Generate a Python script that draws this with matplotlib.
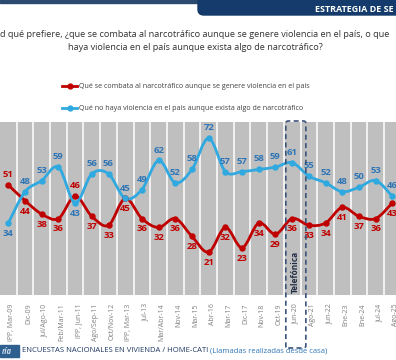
import numpy as np
import matplotlib
matplotlib.use("Agg")
import matplotlib.pyplot as plt
from matplotlib.path import Path
from matplotlib.patches import PathPatch, FancyBboxPatch, Rectangle
from matplotlib.lines import Line2D
from matplotlib.transforms import ScaledTranslation

plt.rcParams['font.family'] = ['Liberation Sans Narrow', 'Open Sans', 'DejaVu Sans']

fechas = ["IPP, Mar-09", "Dic-09", "Jul/Ago-10", "Feb/Mar-11", "IPP, Jun-11",
          "Ago/Sep-11", "Oct/Nov-12", "IPP, Mar-13", "Jul-13", "Mar/Abr-14",
          "Nov-14", "Mar-15", "Abr-16", "Mar-17", "Dic-17", "Nov-18", "Oct-19",
          "Jun-20", "Ago-21", "Jun-22", "Ene-23", "Ene-24", "Jul-24", "Ago-25"]
combata = [51, 44, 38, 36, 46, 37, 33, 45, 36, 32, 36, 28, 21, 32, 23, 34, 29,
           36, 33, 34, 41, 37, 36, 43]
no_violencia = [34, 48, 53, 59, 43, 56, 56, 45, 49, 62, 52, 58, 72, 57, 57, 58,
                59, 61, 55, 52, 48, 50, 53, 46]
# label above (+1) or below (-1) the point
pos_combata = [1, -1, -1, -1, 1] + [-1] * 19
pos_no_violencia = [-1, 1, 1, 1, -1] + [1] * 19

serie1 = "Qué se combata al narcotráfico aunque se genere violencia en el país"
serie2 = "Qué no haya violencia en el país aunque exista algo de narcotráfico"
pregunta = ("d qué prefiere, ¿que se combata al narcotráfico aunque se genere violencia en el país, o que\n"
            "haya violencia en el país aunque exista algo de narcotráfico?")

ROJO = "#C00000"
AZUL = "#2FA9E0"
AZUL_TXT = "#2E75B6"
NAVY = "#143B6B"

W, H = 396, 360
fig = plt.figure(figsize=(W / 100, H / 100), dpi=100)
fig.patch.set_facecolor("white")

def fy(py):
    return 1 - py / H

ax = fig.add_axes([0, fy(295), 1, (295 - 122) / H])
ax.set_facecolor("#BFBFBF")
for s in ax.spines.values():
    s.set_visible(False)
ax.set_xlim(-0.5, 23.22)
ax.set_ylim(1.8, 79.2)
ax.set_yticks([])
x = np.arange(len(fechas))
for b in x[:-1] + 0.5:
    ax.axvline(b, color="white", lw=1.1, zorder=1)


def smooth(xs, ys):
    pts = np.column_stack([xs, ys]).astype(float)
    n = len(pts)
    verts = [pts[0]]
    codes = [Path.MOVETO]
    for i in range(n - 1):
        p0 = pts[max(i - 1, 0)]
        p1 = pts[i]
        p2 = pts[i + 1]
        p3 = pts[min(i + 2, n - 1)]
        verts += [p1 + (p2 - p0) / 6, p2 - (p3 - p1) / 6, p2]
        codes += [Path.CURVE4] * 3
    return Path(verts, codes)


for vals, col, tcol, pos in [(combata, ROJO, ROJO, pos_combata),
                             (no_violencia, AZUL, AZUL_TXT, pos_no_violencia)]:
    ax.add_patch(PathPatch(smooth(x, vals), fill=False, ec=col, lw=2.0, zorder=3))
    ax.plot(x, vals, ls="none", marker="o", ms=3.6, color=col, zorder=4)
    for xi, v, p in zip(x, vals, pos):
        ax.annotate(str(v), (xi, v), xytext=(0, 7.5 * p), textcoords="offset points",
                    ha="center", va="center", fontsize=6.8, fontweight="bold",
                    color=tcol, zorder=5, annotation_clip=False)

ax.set_xticks(x)
ax.set_xticklabels(fechas, rotation=90, fontsize=5, color="#7F7F7F")
ax.tick_params(axis="x", length=0, pad=6)
for lab in ax.get_xticklabels():
    lab.set_transform(lab.get_transform() + ScaledTranslation(3.5 / 100, 0, fig.dpi_scale_trans))

# Telefonica box
fig.canvas.draw()
inv = fig.transFigure.inverted()
x0 = inv.transform(ax.transData.transform((16.62, 0)))[0]
x1 = inv.transform(ax.transData.transform((17.82, 0)))[0]
fig.patches.append(FancyBboxPatch((x0, fy(348)), x1 - x0, (348 - 121) / H,
                                  boxstyle="round,pad=0,rounding_size=0.006",
                                  transform=fig.transFigure, fill=False,
                                  ec="#3A5478", lw=1.2, ls=(0, (3, 2)), zorder=6))
fig.text((x0 + x1) / 2, fy(272), "Telefónica", rotation=90, ha="center", va="center",
         fontsize=6, fontweight="bold", color="#1F2D45")

# banner
fig.patches.append(Rectangle((0, fy(3)), 1, 3 / H, transform=fig.transFigure,
                             color="#2B4A70", zorder=1))
fig.patches.append(FancyBboxPatch((198 / W, fy(15)), 1, 20 / H,
                                  boxstyle="round,pad=0,rounding_size=0.015",
                                  transform=fig.transFigure, color=NAVY, zorder=2))
fig.text(394 / W, fy(9), "ESTRATEGIA DE SE", ha="right", va="center", fontsize=6.5,
         fontweight="bold", color="white")

fig.text(195 / W, fy(41), pregunta, ha="center", va="center", fontsize=6.6,
         color="#333333", linespacing=1.7)

# legend
for yy, col, txt in [(86, ROJO, serie1), (108, AZUL, serie2)]:
    fig.add_artist(Line2D([62 / W, 77 / W], [fy(yy), fy(yy)], transform=fig.transFigure,
                          color=col, lw=2))
    fig.add_artist(Line2D([69.5 / W], [fy(yy)], transform=fig.transFigure, color=col,
                          marker="o", ms=3.5))
    fig.text(79 / W, fy(yy), txt, ha="left", va="center", fontsize=5.1, color="#404040")

# footer
fig.patches.append(Rectangle((0, fy(357)), 19 / W, 12 / H, transform=fig.transFigure,
                             color="#2F5F8F"))
fig.text(2 / W, fy(351), "ría", ha="left", va="center", fontsize=5.5,
         fontweight="bold", fontstyle="italic", color="#C9DAEE")
t = fig.text(22 / W, fy(351), "ENCUESTAS NACIONALES EN VIVIENDA / HOME-CATI ", ha="left",
             va="center", fontsize=5.5, color="#1F3864")
fig.canvas.draw()
bb = t.get_window_extent()
fig.text(inv.transform((bb.x1, 0))[0], fy(351), "(Llamadas realizadas desde casa)",
         ha="left", va="center", fontsize=5.5, color="#2E75B6")

fig.savefig("out.png", dpi=100)
